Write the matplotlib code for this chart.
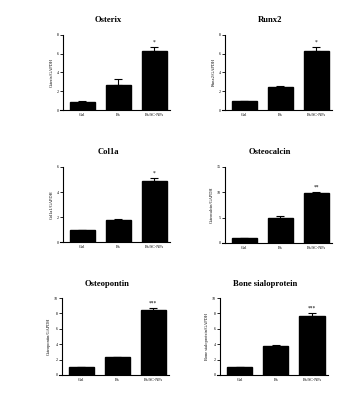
import numpy as np
import matplotlib
matplotlib.use("Agg")
import matplotlib.pyplot as plt

groups = ["Ctrl", "Bx", "Bx/SC-NPs"]

titles = ["Osterix", "Runx2", "Col1a", "Osteocalcin", "Osteopontin", "Bone sialoprotein"]
ylabels = ["Osterix/GAPDH", "Runx2/GAPDH", "Col1a1/GAPDH",
           "Osteocalcin/GAPDH", "Osteopontin/GAPDH", "Bone sialoprotein/GAPDH"]

osterix = [0.9, 2.7, 6.3]
osterix_err = [0.05, 0.6, 0.45]
runx2 = [0.95, 2.5, 6.3]
runx2_err = [0.05, 0.1, 0.45]
col1a = [0.93, 1.75, 4.9]
col1a_err = [0.03, 0.1, 0.2]
osteocalcin = [1.0, 4.9, 9.8]
osteocalcin_err = [0.05, 0.4, 0.3]
osteopontin = [1.0, 2.3, 8.4]
osteopontin_err = [0.05, 0.1, 0.25]
bsp = [1.0, 3.8, 7.7]
bsp_err = [0.05, 0.1, 0.3]

values = [osterix, runx2, col1a, osteocalcin, osteopontin, bsp]
errors = [osterix_err, runx2_err, col1a_err, osteocalcin_err, osteopontin_err, bsp_err]
stars = ["*", "*", "*", "**", "***", "***"]
yticks = [[0, 2, 4, 6, 8], [0, 2, 4, 6, 8], [0, 2, 4, 6],
          [0, 5, 10, 15], [0, 2, 4, 6, 8, 10], [0, 2, 4, 6, 8, 10]]

W, H = 344, 395
# axes boxes in pixels: left, top, right, bottom
boxes = [(63, 35, 170, 110), (225, 35, 332, 110),
         (63, 167, 170, 242), (225, 167, 332, 243),
         (62, 298, 169, 375), (220, 298, 328, 375)]

plt.rcParams['font.family'] = ['Liberation Serif', 'DejaVu Serif']

fig = plt.figure(figsize=(W / 100, H / 100), dpi=100)
fig.patch.set_facecolor("white")

x = np.arange(len(groups))
for i in range(6):
    l, t, r, b = boxes[i]
    ax = fig.add_axes([l / W, 1 - b / H, (r - l) / W, (b - t) / H])
    ax.bar(x, values[i], width=0.7, color="black", edgecolor="black")
    ax.errorbar(x, values[i], yerr=[np.zeros(3), errors[i]], fmt="none",
                ecolor="black", elinewidth=0.8, capsize=3, capthick=0.8)
    top = yticks[i][-1]
    ax.text(2, values[i][2] + errors[i][2] + top * 0.03, stars[i],
            ha="center", va="bottom", fontsize=4)
    ax.set_xlim(-0.54, 2.44)
    ax.set_ylim(0, top)
    ax.set_yticks(yticks[i])
    ax.set_xticks(x)
    ax.set_xticklabels(groups, fontsize=3)
    ax.tick_params(axis="y", labelsize=3, length=2, width=0.6, pad=1)
    ax.tick_params(axis="x", length=0, pad=2)
    ax.spines["top"].set_visible(False)
    ax.spines["right"].set_visible(False)
    ax.spines["left"].set_linewidth(0.8)
    ax.spines["bottom"].set_linewidth(0.8)
    ax.spines["bottom"].set_bounds(-0.62, 2.44)
    ax.set_ylabel(ylabels[i], fontsize=3.2, labelpad=2)
    ax.set_title(titles[i], fontsize=6.2, fontweight="bold", pad=9, x=0.42)

fig.savefig("out.png", dpi=100, facecolor="white")
